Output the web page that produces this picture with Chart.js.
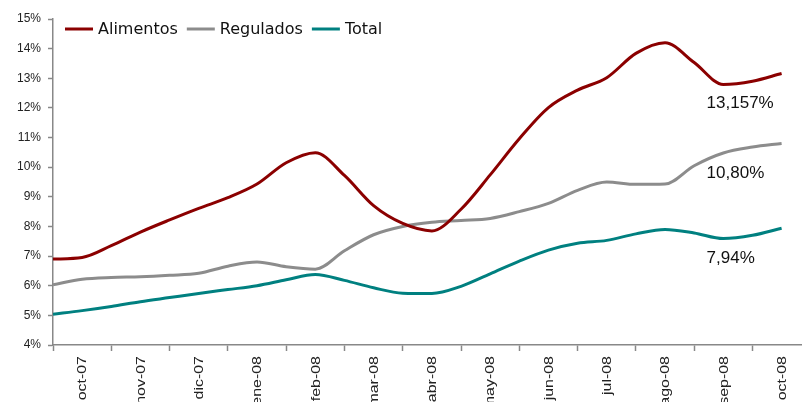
<!DOCTYPE html>
<html>
<head>
<meta charset="utf-8">
<script src="https://cdn.jsdelivr.net/npm/chart.js@4.4.1/dist/chart.umd.min.js"></script>
<style>
  html, body { margin: 0; padding: 0; background: #fff; overflow: hidden; }
  #wrap { width: 802px; height: 402px; }
</style>
</head>
<body>
<div id="wrap"><canvas id="c" width="802" height="402"></canvas></div>
<script>
// ---- data ----
const monthLabels = ['oct-07','nov-07','dic-07','ene-08','feb-08','mar-08','abr-08','may-08','jun-08','jul-08','ago-08','sep-08','oct-08'];
const periods = [0,0.5,1,1.5,2,2.5,3,3.5,4,4.5,5,5.5,6,6.5,7,7.5,8,8.5,9,9.5,10,10.5,11,11.5,12,12.5];
const alimentos = [6.90,6.95,7.35,7.81,8.22,8.61,8.97,9.43,10.15,10.49,9.72,8.70,8.10,7.85,8.58,9.74,10.96,12.01,12.60,13.02,13.84,14.20,13.53,12.79,12.90,13.16];
const regulados = [6.03,6.22,6.28,6.30,6.35,6.42,6.66,6.80,6.64,6.56,7.18,7.72,8.00,8.14,8.20,8.27,8.50,8.78,9.22,9.50,9.42,9.43,10.05,10.48,10.68,10.80];
const total     = [5.04,5.16,5.30,5.46,5.60,5.74,5.87,6.00,6.20,6.38,6.18,5.93,5.75,5.74,5.98,6.40,6.83,7.20,7.43,7.53,7.75,7.90,7.78,7.59,7.70,7.94];
const seriesNames = ['Alimentos','Regulados','Total'];
const endLabels = ['13,157%','10,80%','7,94%'];
const yTicks = [4,5,6,7,8,9,10,11,12,13,14,15];

const colors = ['#8B0000','#8C8C8C','#008080'];
const toPts = arr => arr.map((v,i) => ({x: periods[i], y: v}));

const legendPlugin = {
  id: 'customLegend',
  afterDraw(chart) {
    const ctx = chart.ctx;
    ctx.save();
    ctx.font = '16px "DejaVu Sans"';
    ctx.textBaseline = 'middle';
    ctx.textAlign = 'left';
    let x = 65;
    const y = 29;
    seriesNames.forEach((name, i) => {
      ctx.strokeStyle = colors[i];
      ctx.lineWidth = 3;
      ctx.beginPath();
      ctx.moveTo(x, y);
      ctx.lineTo(x + 28, y);
      ctx.stroke();
      ctx.fillStyle = '#111';
      ctx.fillText(name, x + 33, y + 1);
      x += 33 + ctx.measureText(name).width + 9;
    });
    ctx.restore();
  }
};

const endLabelPlugin = {
  id: 'endLabels',
  afterDatasetsDraw(chart) {
    const ctx = chart.ctx;
    ctx.save();
    ctx.font = '17px "Liberation Sans"';
    ctx.fillStyle = '#111';
    ctx.textBaseline = 'middle';
    ctx.textAlign = 'left';
    chart.data.datasets.forEach((ds, i) => {
      const meta = chart.getDatasetMeta(i);
      const pt = meta.data[meta.data.length - 1];
      ctx.fillText(endLabels[i], pt.x - 75, pt.y + 30);
    });
    ctx.restore();
  }
};

// x tick labels, drawn at the x scale's tick positions (stretched along the text like the original)
const xLabelPlugin = {
  id: 'xLabels',
  afterDraw(chart) {
    const scale = chart.scales.x;
    const ctx = chart.ctx;
    ctx.save();
    ctx.font = '12px "Liberation Sans"';
    ctx.fillStyle = '#222';
    scale.ticks.forEach((t) => {
      if (Number.isInteger(t.value)) return;
      const label = monthLabels[Math.floor(t.value)];
      const px = scale.getPixelForValue(t.value);
      ctx.save();
      ctx.translate(px + 1, scale.top + 11);
      ctx.rotate(-Math.PI / 2);
      ctx.scale(1.33, 1);
      ctx.textAlign = 'right';
      ctx.textBaseline = 'middle';
      ctx.fillText(label, 0, 0);
      ctx.restore();
    });
    ctx.restore();
  }
};

new Chart(document.getElementById('c'), {
  type: 'line',
  data: {
    datasets: [
      { label: seriesNames[0], data: toPts(alimentos), borderColor: colors[0], backgroundColor: colors[0] },
      { label: seriesNames[1], data: toPts(regulados), borderColor: colors[1], backgroundColor: colors[1] },
      { label: seriesNames[2], data: toPts(total), borderColor: colors[2], backgroundColor: colors[2] }
    ]
  },
  options: {
    responsive: false,
    animation: false,
    devicePixelRatio: 1,
    layout: { padding: { top: 19, right: 0, bottom: 0, left: 0 } },
    elements: {
      line: { borderWidth: 3, cubicInterpolationMode: 'monotone', fill: false },
      point: { radius: 0, hoverRadius: 0 }
    },
    plugins: { legend: { display: false }, tooltip: { enabled: false } },
    scales: {
      x: {
        type: 'linear',
        min: 0,
        max: 12.85,
        afterBuildTicks(scale) {
          const t = [];
          monthLabels.forEach((m, i) => { t.push({ value: i }); t.push({ value: i + 0.5 }); });
          scale.ticks = t;
        },
        afterFit(scale) { scale.height = 57; },
        border: { display: true, color: '#888', width: 1.5 },
        grid: {
          drawOnChartArea: false,
          drawTicks: true,
          tickLength: 6,
          tickWidth: 1.5,
          tickColor: ctx => (ctx.tick && Number.isInteger(ctx.tick.value)) ? '#888' : 'rgba(0,0,0,0)'
        },
        ticks: {
          display: false,
          autoSkip: false,
          callback: (v) => Number.isInteger(v) ? '' : monthLabels[Math.floor(v)]
        }
      },
      y: {
        min: 4,
        max: 15,
        afterBuildTicks(scale) { scale.ticks = yTicks.map(v => ({ value: v })); },
        afterFit(scale) { scale.width = 53; },
        border: { display: true, color: '#888', width: 1.5 },
        grid: { drawOnChartArea: false, drawTicks: true, tickLength: 5, tickWidth: 1.5, tickColor: '#888' },
        ticks: {
          padding: 7,
          color: '#222',
          font: { family: 'Liberation Sans', size: 12 },
          callback: v => v + '%'
        }
      }
    }
  },
  plugins: [legendPlugin, endLabelPlugin, xLabelPlugin]
});
</script>
</body>
</html>
